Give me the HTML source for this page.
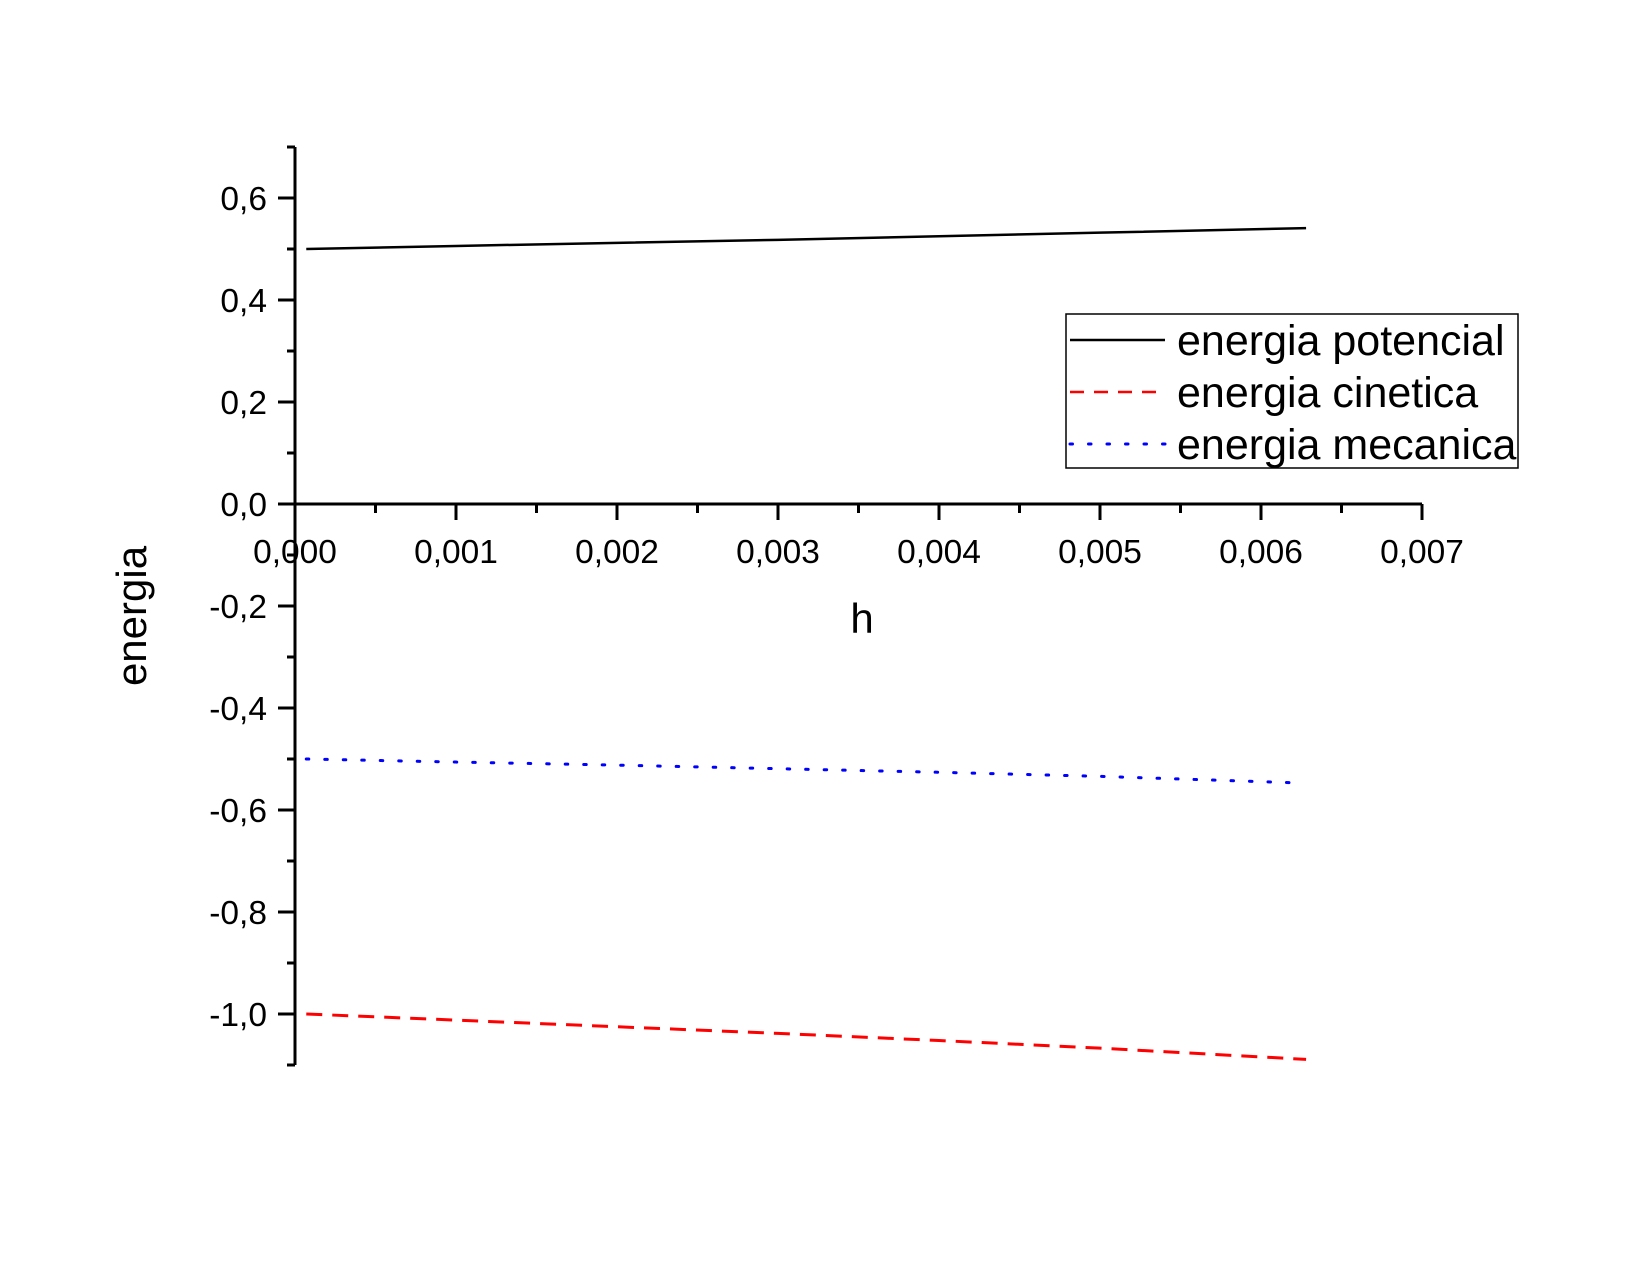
<!DOCTYPE html>
<html><head><meta charset="utf-8"><style>
html,body{margin:0;padding:0;background:#fff}
svg{display:block}
text{font-family:"Liberation Sans",sans-serif;fill:#000}
</style></head><body>
<svg id="chart" width="1650" height="1275" viewBox="0 0 1650 1275" xmlns="http://www.w3.org/2000/svg">
<g id="axes"></g>
<g id="series"></g>
<text x="862" y="633" font-size="42" text-anchor="middle">h</text>
<text x="0" y="0" font-size="42" text-anchor="middle" transform="translate(146,616) rotate(-90)">energia</text>
<g>
<rect x="1066" y="314" width="452" height="154" fill="#fff" stroke="#000" stroke-width="1.5"/>
<line x1="1070" y1="340" x2="1165" y2="340" stroke="#000" stroke-width="2.5"/>
<text x="1177" y="355" font-size="43">energia potencial</text>
<line x1="1070" y1="392" x2="1165" y2="392" stroke="#f00" stroke-width="2.5" stroke-dasharray="14,10"/>
<text x="1177" y="407" font-size="43">energia cinetica</text>
<line x1="1070" y1="444" x2="1165" y2="444" stroke="#00f" stroke-width="3" stroke-dasharray="2.5,16" stroke-linecap="round"/>
<text x="1177" y="459" font-size="43">energia mecanica</text>
</g>
</svg>
<script>
const hValues = [0.00007, 0.001, 0.002, 0.003, 0.004, 0.005, 0.00628];
const potencial = [0.500, 0.506, 0.512, 0.518, 0.525, 0.532, 0.541];
const cinetica = [-1.000, -1.012, -1.025, -1.038, -1.052, -1.067, -1.089];
const hMecanica = [0.00007, 0.001, 0.002, 0.003, 0.004, 0.005, 0.00625];
const mecanica = [-0.500, -0.506, -0.512, -0.519, -0.526, -0.534, -0.547];
const xTicks = ["0,000","0,001","0,002","0,003","0,004","0,005","0,006","0,007"];
const yTicks = ["-1,0","-0,8","-0,6","-0,4","-0,2","0,0","0,2","0,4","0,6"];

const NS="http://www.w3.org/2000/svg";
const X0=295, XPX=161000, Y0=504, YPX=510;
function xs(v){return X0+v*XPX;}
function ys(v){return Y0-v*YPX;}
function mk(tag,attrs,parent){const e=document.createElementNS(NS,tag);for(const k in attrs)e.setAttribute(k,attrs[k]);parent.appendChild(e);return e;}
const axes=document.getElementById('axes');
const yAxis=mk('line',{x1:X0,y1:ys(0.7),x2:X0,y2:ys(-1.1),stroke:'#000','stroke-width':3},axes);


const xAxis=mk('line',{x1:X0,y1:Y0,x2:xs(0.007),y2:Y0,stroke:'#000','stroke-width':3},axes);


for(let i=0;i<=14;i++){
  const v=i*0.0005, major=i%2===0;
  const t=mk('line',{x1:xs(v),y1:Y0,x2:xs(v),y2:Y0+(major?16:9),stroke:'#000','stroke-width':3},axes);
  
  
}
xTicks.forEach((lab,i)=>{
  const t=mk('text',{x:xs(i*0.001),y:563,'font-size':33.5,'text-anchor':'middle'},axes);
  t.textContent=lab;
  
  
});
for(let i=-11;i<=7;i++){
  const v=i*0.1, major=(i%2===0);
  const t=mk('line',{x1:X0,y1:ys(v),x2:X0-(major?17:8),y2:ys(v),stroke:'#000','stroke-width':3},axes);
  
  
}
yTicks.forEach((lab,i)=>{
  const v=-1+i*0.2;
  const t=mk('text',{x:267,y:ys(v)+12,'font-size':33.5,'text-anchor':'end'},axes);
  t.textContent=lab;
  
  
});
const series=document.getElementById('series');
function pts(xa,ya){return xa.map((h,i)=>xs(h)+','+ys(ya[i])).join(' ');}
const p1=mk('polyline',{points:pts(hValues,potencial),fill:'none',stroke:'#000','stroke-width':2.5},series);


const p2=mk('polyline',{points:pts(hValues,cinetica),fill:'none',stroke:'#f00','stroke-width':3,'stroke-dasharray':'16,10'},series);


const p3=mk('polyline',{points:pts(hMecanica,mecanica),fill:'none',stroke:'#00f','stroke-width':3,'stroke-dasharray':'2.5,16','stroke-linecap':'round'},series);


</script>
</body></html>
